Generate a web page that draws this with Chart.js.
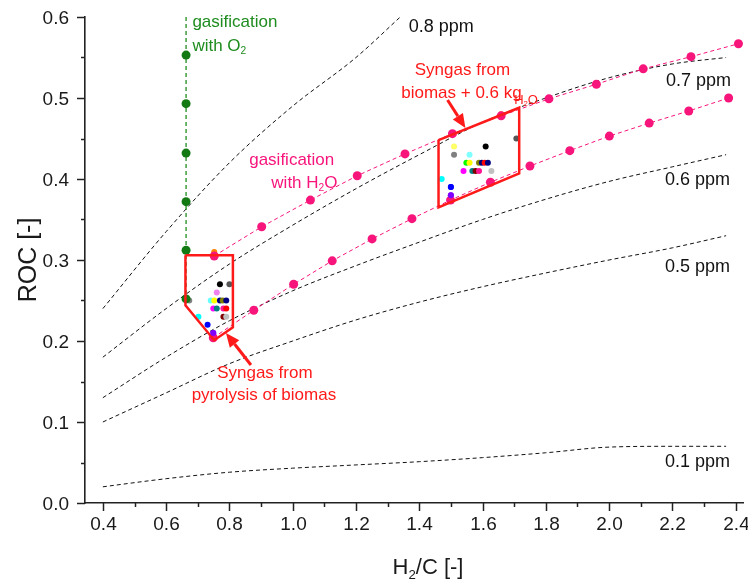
<!DOCTYPE html>
<html><head><meta charset="utf-8">
<script src="https://cdn.jsdelivr.net/npm/chart.js@4.4.0/dist/chart.umd.min.js"></script>
<style>html,body{margin:0;padding:0;background:#fff}#wrap{width:748px;height:582px;position:relative}</style>
</head><body><div id="wrap"><canvas id="c" width="748" height="582"></canvas></div>
<script>
// ---- iso-ppm curves (black dashed) ----
const ppmX   = [0.4, 0.6, 0.8, 1.0, 1.2, 1.4, 1.6, 1.8, 2.0, 2.2, 2.37];
const ppm01  = [0.020, 0.030, 0.038, 0.043, 0.047, 0.051, 0.056, 0.062, 0.069, 0.070, 0.070];
const ppm05  = [0.100, 0.136, 0.172, 0.200, 0.226, 0.248, 0.267, 0.284, 0.300, 0.315, 0.330];
const ppm06  = [0.130, 0.180, 0.225, 0.262, 0.293, 0.322, 0.350, 0.375, 0.397, 0.415, 0.430];
const ppm07  = [0.180, 0.240, 0.295, 0.343, 0.388, 0.430, 0.470, 0.500, 0.525, 0.542, 0.550];
const ppm08X = [0.4, 0.6, 0.8, 1.0, 1.2, 1.34];
const ppm08  = [0.240, 0.335, 0.420, 0.490, 0.550, 0.600];

// ---- gasification with H2O (two pink series) ----
const h2oUpperX = [0.752, 0.902, 1.056, 1.204, 1.355, 1.505, 1.659, 1.810, 1.960, 2.108, 2.259, 2.409];
const h2oUpperY = [0.305, 0.341, 0.374, 0.404, 0.431, 0.456, 0.478, 0.499, 0.517, 0.536, 0.551, 0.567];
const h2oLowerX = [0.749, 0.877, 1.003, 1.125, 1.251, 1.377, 1.499, 1.625, 1.750, 1.876, 2.001, 2.127, 2.252, 2.378];
const h2oLowerY = [0.204, 0.238, 0.270, 0.299, 0.326, 0.351, 0.374, 0.396, 0.416, 0.435, 0.453, 0.469, 0.484, 0.500];

// ---- gasification with O2 (green) ----
const o2X = [0.663, 0.663, 0.663, 0.663, 0.663, 0.663, 0.663];
const o2Y = [0.600, 0.553, 0.493, 0.432, 0.372, 0.312, 0.252];

// ---- syngas regions (red outlines) ----
const pyroBoxX = [0.661, 0.811, 0.811, 0.752, 0.661, 0.661];
const pyroBoxY = [0.306, 0.306, 0.217, 0.201, 0.244, 0.306];
const kgBoxX   = [1.461, 1.716, 1.716, 1.461, 1.461];
const kgBoxY   = [0.448, 0.488, 0.407, 0.365, 0.448];

// ---- syngas samples (small coloured dots) ----
const pyroX = [0.770, 0.800, 0.760, 0.741, 0.752, 0.770, 0.779, 0.790, 0.749, 0.760, 0.781, 0.790, 0.702, 0.781, 0.790, 0.731, 0.749, 0.673, 0.752];
const pyroY = [0.270, 0.270, 0.260, 0.250, 0.250, 0.250, 0.250, 0.250, 0.240, 0.240, 0.240, 0.240, 0.230, 0.230, 0.230, 0.220, 0.210, 0.250, 0.310];
const pyroC = ['#000000','#555555','#ee82ee','#66ffff','#ffff00','#000080','#808000','#000080','#ff00ff','#008080','#ff1493','#ff0000','#00ffff','#800000','#c0c0c0','#0000ff','#8000ff','#808080','#ff8000'];
const kgX = [1.610, 1.707, 1.510, 1.510, 1.559, 1.549, 1.559, 1.589, 1.598, 1.607, 1.617, 1.540, 1.568, 1.578, 1.589, 1.628, 1.471, 1.500, 1.500, 1.659];
const kgY = [0.440, 0.450, 0.440, 0.430, 0.430, 0.420, 0.420, 0.420, 0.420, 0.420, 0.420, 0.410, 0.410, 0.410, 0.410, 0.410, 0.400, 0.390, 0.380, 0.480];
const kgC = ['#000000','#555555','#ffff66','#808080','#80ffff','#00ff00','#ffff00','#808000','#000080','#ff0000','#000080','#ff00ff','#008080','#800000','#ff1493','#c0c0c0','#00ffff','#0000ff','#8000ff','#ff8000'];

// ---- axis tick labels ----
const xTickLabels = ['0.4','0.6','0.8','1.0','1.2','1.4','1.6','1.8','2.0','2.2','2.4'];
const yTickLabels = ['0.0','0.1','0.2','0.3','0.4','0.5','0.6'];

const pts = (xs, ys) => xs.map((x, i) => ({x, y: ys[i]}));
const PINK = '#f7157c', GREEN = '#1e8c1e', RED = '#ff1a1a';
const FONT = '"Liberation Sans", Arial, sans-serif';
const f = s => s + 'px ' + FONT;

function dashLine(data, color, order, extra) {
  return Object.assign({data, showLine: true, borderColor: color, borderWidth: 1, borderDash: [4, 3],
    pointRadius: 0, pointHoverRadius: 0, fill: false, cubicInterpolationMode: 'monotone', order}, extra || {});
}

const datasets = [
  dashLine(pts(ppmX, ppm01), '#111', 20),
  dashLine(pts(ppmX, ppm05), '#111', 20),
  dashLine(pts(ppmX, ppm06), '#111', 20),
  dashLine(pts(ppmX, ppm07), '#111', 20),
  dashLine(pts(ppm08X, ppm08), '#111', 20),
  {data: pts(pyroX, pyroY), showLine: false, pointRadius: 3, pointBorderWidth: 0, pointBackgroundColor: pyroC, order: 12},
  {data: pts(kgX, kgY), showLine: false, pointRadius: 3, pointBorderWidth: 0, pointBackgroundColor: kgC, order: 12},
  dashLine(pts(h2oUpperX, h2oUpperY), PINK, 10, {pointRadius: 4.5, pointBackgroundColor: PINK, pointBorderWidth: 0, cubicInterpolationMode: 'default'}),
  dashLine(pts(h2oLowerX, h2oLowerY), PINK, 10, {pointRadius: 4.5, pointBackgroundColor: PINK, pointBorderWidth: 0, cubicInterpolationMode: 'default'}),
  dashLine(pts(o2X, o2Y), GREEN, 9, {borderWidth: 1.3, pointRadius: o2Y.map((v, i) => i === 0 ? 0 : 4.5), pointBackgroundColor: '#137a13', pointBorderWidth: 0, cubicInterpolationMode: 'default'}),
  {data: pts(pyroBoxX, pyroBoxY), showLine: true, borderColor: RED, borderWidth: 2.5, pointRadius: 0, fill: false, order: 5},
  {data: pts(kgBoxX, kgBoxY), showLine: true, borderColor: RED, borderWidth: 2.5, pointRadius: 0, fill: false, order: 5},
  {data: pts(pyroX.slice(16,17), pyroY.slice(16,17)), showLine: false, pointRadius: 3, pointBorderWidth: 0, pointBackgroundColor: '#8000ff', order: 4},
  {data: pts(kgX.slice(17,19), kgY.slice(17,19)), showLine: false, pointRadius: 3, pointBorderWidth: 0, pointBackgroundColor: ['#0000ff','#8000ff'], order: 4}
];

// text annotations (data coordinates)
const notes = [
  {parts: [{t: 'gasification'}], x: 0.683, y: 0.594, c: GREEN, s: 17, a: 'left'},
  {parts: [{t: 'with O'}, {t: '2', sub: 1}], x: 0.683, y: 0.564, c: GREEN, s: 17, a: 'left'},
  {parts: [{t: 'gasification'}], x: 0.997, y: 0.4235, c: PINK, s: 17, a: 'center'},
  {parts: [{t: 'with H'}, {t: '2', sub: 1}, {t: 'O'}], x: 1.037, y: 0.395, c: PINK, s: 17, a: 'center'},
  {parts: [{t: 'Syngas from'}], x: 1.5366, y: 0.5346, c: RED, s: 17, a: 'center'},
  {parts: [{t: 'biomas + 0.6 kg'}], x: 1.5335, y: 0.5062, c: RED, s: 17, a: 'center'},
  {parts: [{t: 'H'}, {t: '2', sub: 1}, {t: 'O'}], x: 1.700, y: 0.4975, c: RED, s: 13, a: 'left'},
  {parts: [{t: 'Syngas from'}], x: 0.912, y: 0.1605, c: RED, s: 17, a: 'center'},
  {parts: [{t: 'pyrolysis of biomas'}], x: 0.909, y: 0.1333, c: RED, s: 17, a: 'center'},
  {parts: [{t: '0.8 ppm'}], x: 1.367, y: 0.5877, c: '#111', s: 18, a: 'left'},
  {parts: [{t: '0.7 ppm'}], x: 2.180, y: 0.5210, c: '#111', s: 18, a: 'left'},
  {parts: [{t: '0.6 ppm'}], x: 2.177, y: 0.3988, c: '#111', s: 18, a: 'left'},
  {parts: [{t: '0.5 ppm'}], x: 2.177, y: 0.2914, c: '#111', s: 18, a: 'left'},
  {parts: [{t: '0.1 ppm'}], x: 2.177, y: 0.0506, c: '#111', s: 18, a: 'left'}
];
const arrows = [
  {x1: 0.868, y1: 0.1704, x2: 0.789, y2: 0.2099},
  {x1: 1.4895, y1: 0.4975, x2: 1.546, y2: 0.463}
];

function drawRich(ctx, parts, x, y, size, color, align) {
  let w = 0;
  for (const p of parts) { ctx.font = f(p.sub ? size * 0.6 : size); w += ctx.measureText(p.t).width; }
  let cx = align === 'center' ? x - w / 2 : align === 'right' ? x - w : x;
  ctx.fillStyle = color; ctx.textBaseline = 'middle'; ctx.textAlign = 'left';
  for (const p of parts) {
    const s = p.sub ? size * 0.6 : size;
    ctx.font = f(s);
    ctx.fillText(p.t, cx, y + (p.sub ? size * 0.32 : 0));
    cx += ctx.measureText(p.t).width;
  }
}

const deco = {
  id: 'deco',
  afterDraw(chart) {
    const ctx = chart.ctx, xs = chart.scales.x, ys = chart.scales.y;
    const ca = chart.chartArea;
    ctx.save();
    ctx.strokeStyle = '#222'; ctx.lineWidth = 1.5;
    // x ticks
    const xv = xTickLabels.map(Number);
    xv.forEach((v, i) => {
      const px = Math.round(xs.getPixelForValue(v)) + 0.5;
      ctx.beginPath(); ctx.moveTo(px, ca.bottom); ctx.lineTo(px, ca.bottom + 8); ctx.stroke();
      if (i < xv.length - 1) {
        const pm = Math.round(xs.getPixelForValue((v + xv[i + 1]) / 2)) + 0.5;
        ctx.beginPath(); ctx.moveTo(pm, ca.bottom); ctx.lineTo(pm, ca.bottom + 4); ctx.stroke();
      }
      drawRich(ctx, [{t: xTickLabels[i]}], px, ca.bottom + 22, 19, '#1a1a1a', 'center');
    });
    // y ticks
    const yv = yTickLabels.map(Number);
    yv.forEach((v, i) => {
      const py = Math.round(ys.getPixelForValue(v)) + 0.5;
      ctx.beginPath(); ctx.moveTo(ca.left, py); ctx.lineTo(ca.left - 8, py); ctx.stroke();
      if (i < yv.length - 1) {
        const pm = Math.round(ys.getPixelForValue((v + yv[i + 1]) / 2)) + 0.5;
        ctx.beginPath(); ctx.moveTo(ca.left, pm); ctx.lineTo(ca.left - 4, pm); ctx.stroke();
      }
      drawRich(ctx, [{t: yTickLabels[i]}], ca.left - 16, py + 1, 19, '#1a1a1a', 'right');
    });
    // axis titles
    drawRich(ctx, [{t: 'H'}, {t: '2', sub: 1}, {t: '/C [-]'}], 428, 568, 22, '#1a1a1a', 'center');
    ctx.save();
    ctx.translate(29, 260); ctx.rotate(-Math.PI / 2);
    drawRich(ctx, [{t: 'ROC [-]'}], 0, 0, 25, '#1a1a1a', 'center');
    ctx.restore();
    // annotations
    for (const n of notes) {
      drawRich(ctx, n.parts, xs.getPixelForValue(n.x), ys.getPixelForValue(n.y), n.s, n.c, n.a);
    }
    // arrows
    ctx.strokeStyle = RED; ctx.fillStyle = RED; ctx.lineWidth = 3;
    for (const a of arrows) {
      const x1 = xs.getPixelForValue(a.x1), y1 = ys.getPixelForValue(a.y1);
      const x2 = xs.getPixelForValue(a.x2), y2 = ys.getPixelForValue(a.y2);
      const ang = Math.atan2(y2 - y1, x2 - x1), L = 14, W = 6;
      const bx = x2 - L * Math.cos(ang), by = y2 - L * Math.sin(ang);
      ctx.beginPath(); ctx.moveTo(x1, y1); ctx.lineTo(bx, by); ctx.stroke();
      ctx.beginPath(); ctx.moveTo(x2, y2);
      ctx.lineTo(bx + W * Math.sin(ang), by - W * Math.cos(ang));
      ctx.lineTo(bx - W * Math.sin(ang), by + W * Math.cos(ang));
      ctx.closePath(); ctx.fill();
    }
    ctx.restore();
  }
};

new Chart(document.getElementById('c'), {
  type: 'scatter',
  data: {datasets},
  options: {
    responsive: false, devicePixelRatio: 1, animation: false,
    layout: {padding: {top: 17, right: 0, left: 0, bottom: 0}},
    plugins: {legend: {display: false}, tooltip: {enabled: false}},
    scales: {
      x: {type: 'linear', min: 0.3435, max: 2.425, ticks: {display: false}, grid: {display: false},
          border: {display: true, color: '#222', width: 1.6}, afterFit: s => { s.height = 79; }},
      y: {type: 'linear', min: 0, max: 0.6, ticks: {display: false}, grid: {display: false},
          border: {display: true, color: '#222', width: 1.6}, afterFit: s => { s.width = 85; }}
    }
  },
  plugins: [deco]
});
</script></body></html>
